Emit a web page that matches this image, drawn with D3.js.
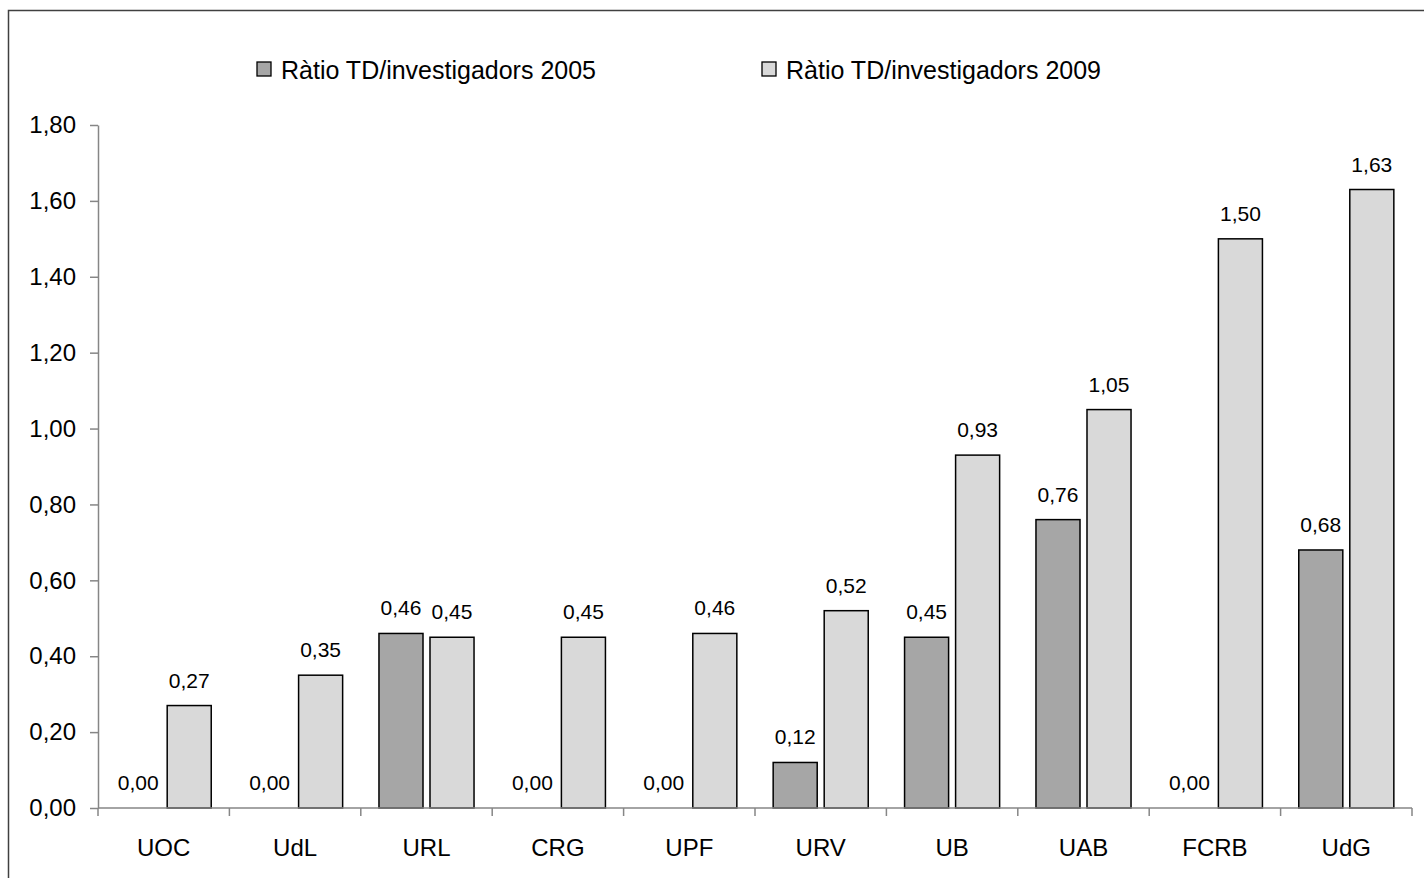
<!DOCTYPE html>
<meta charset="utf-8">
<script src="https://d3js.org/d3.v7.min.js"></script>
<style>
  body { margin: 0; background: #fff; }
  text { font-family: "Liberation Sans", Arial, sans-serif; fill: #000; }
</style>
<div id="chart"></div>
<script>
// data
const categories = ["UOC", "UdL", "URL", "CRG", "UPF", "URV", "UB", "UAB", "FCRB", "UdG"];
const seriesNames = ["Ràtio TD/investigadors 2005", "Ràtio TD/investigadors 2009"];
const values2005 = [0.00, 0.00, 0.46, 0.00, 0.00, 0.12, 0.45, 0.76, 0.00, 0.68];
const values2009 = [0.27, 0.35, 0.45, 0.45, 0.46, 0.52, 0.93, 1.05, 1.50, 1.63];
const yTicks = [0, 0.2, 0.4, 0.6, 0.8, 1.0, 1.2, 1.4, 1.6, 1.8];
const colours = ["#a6a6a6", "#d9d9d9"];

const W = 1424, H = 878;
const margin = {top: 125, right: 12, bottom: 70, left: 98};

const svg = d3.select("#chart").append("svg")
  .attr("width", W).attr("height", H);

// outer frame
svg.append("rect")
  .attr("x", 8.5).attr("y", 10.5)
  .attr("width", W + 20).attr("height", H + 20)
  .attr("fill", "none").attr("stroke", "#404040").attr("stroke-width", 1.5);

const fmt = v => d3.format(".2f")(v).replace(".", ",");

const x0 = d3.scaleBand().domain(categories).range([margin.left, W - margin.right]);
const x1 = d3.scaleBand().domain([0, 1]).range([0, x0.bandwidth()])
  .paddingInner(0.137).paddingOuter(0.356);
const y = d3.scaleLinear().domain([0, 1.8]).range([H - margin.bottom, margin.top]);

const data = categories.map((c, i) => ({cat: c, vals: [values2005[i], values2009[i]]}));

// bars
const groups = svg.append("g").selectAll("g").data(data).join("g")
  .attr("transform", d => `translate(${x0(d.cat)},0)`);

groups.selectAll("rect")
  .data(d => d.vals.map((v, k) => ({v, k})).filter(e => e.v > 0))
  .join("rect")
    .attr("x", e => x1(e.k))
    .attr("width", x1.bandwidth())
    .attr("y", e => y(e.v))
    .attr("height", e => y(0) - y(e.v))
    .attr("fill", e => colours[e.k])
    .attr("stroke", "#000").attr("stroke-width", 1.5);

groups.selectAll("text.lbl")
  .data(d => d.vals.map((v, k) => ({v, k})))
  .join("text")
    .attr("class", "lbl")
    .attr("x", e => x1(e.k) + x1.bandwidth() / 2)
    .attr("y", e => y(e.v) - 18)
    .attr("text-anchor", "middle")
    .style("font-size", "21px")
    .text(e => fmt(e.v));

// y axis
const yAxis = svg.append("g")
  .attr("transform", `translate(${margin.left},0)`)
  .call(d3.axisLeft(y).tickValues(yTicks).tickSize(8).tickSizeOuter(0).tickFormat(fmt));
yAxis.select(".domain").attr("stroke", "#868686").attr("stroke-width", 1.5);
yAxis.selectAll(".tick line").attr("stroke", "#868686").attr("stroke-width", 1.5);
yAxis.selectAll(".tick text")
  .attr("x", -22)
  .style("font-size", "24px")
  .style("font-family", "Liberation Sans, Arial, sans-serif")
  .attr("fill", "#000");

// x axis
const xg = svg.append("g").attr("transform", `translate(0,${y(0)})`);
xg.append("line")
  .attr("x1", margin.left).attr("x2", W - margin.right)
  .attr("stroke", "#868686").attr("stroke-width", 1.5);
const bounds = categories.map(c => x0(c)).concat([x0(categories[categories.length - 1]) + x0.bandwidth()]);
xg.selectAll("line.tk").data(bounds).join("line")
  .attr("class", "tk")
  .attr("x1", d => d).attr("x2", d => d)
  .attr("y1", 0).attr("y2", 8)
  .attr("stroke", "#868686").attr("stroke-width", 1.5);
xg.selectAll("text").data(categories).join("text")
  .attr("x", d => x0(d) + x0.bandwidth() / 2)
  .attr("y", 48)
  .attr("text-anchor", "middle")
  .style("font-size", "24px")
  .text(d => d);

// legend
const legendX = [257, 762];
const legend = svg.append("g").selectAll("g").data(seriesNames).join("g")
  .attr("transform", (d, i) => `translate(${legendX[i]},62)`);
legend.append("rect")
  .attr("width", 14).attr("height", 14)
  .attr("fill", (d, i) => colours[i])
  .attr("stroke", "#000").attr("stroke-width", 1.3);
legend.append("text")
  .attr("x", 24).attr("y", 17)
  .style("font-size", "25px")
  .text(d => d);
</script>
